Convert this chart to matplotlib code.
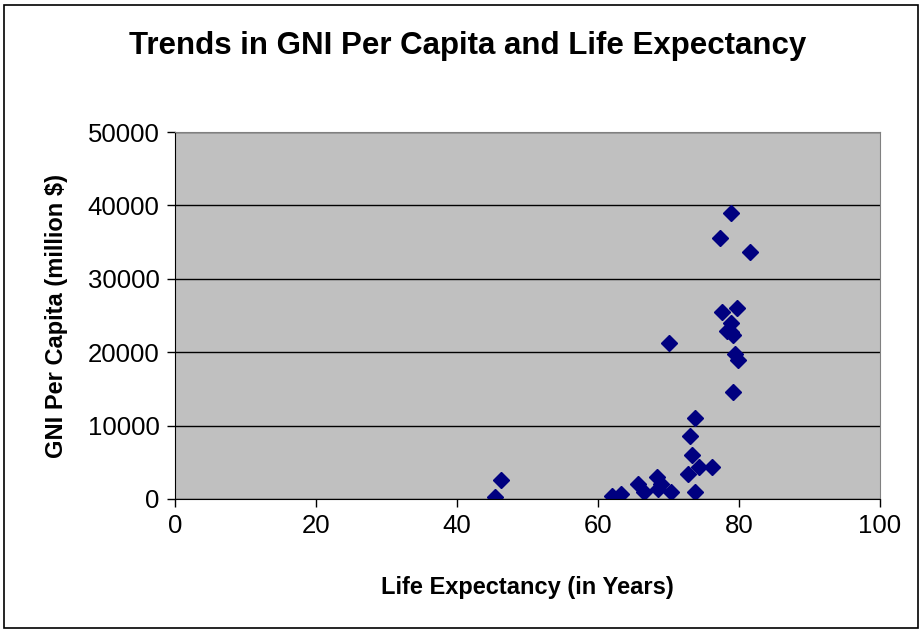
import matplotlib
matplotlib.use('Agg')
import matplotlib.pyplot as plt
from matplotlib.patches import Rectangle

plt.rcParams['font.family'] = ['Liberation Sans', 'DejaVu Sans']

# Espérance de vie (années) et RNB par habitant
life_exp = [78.8, 77.3, 81.5, 79.7, 77.6, 78.8, 78.3, 79.2, 78.9, 70.1,
            79.4, 79.8, 79.1, 73.7, 73.1, 73.4, 74.3, 76.2, 72.8, 73.7,
            70.4, 68.3, 69.0, 68.5, 65.7, 66.5, 62.0, 63.3, 46.3, 45.4]
gni = [38900, 35500, 33700, 26000, 25500, 24000, 22900, 22300, 22800, 21200,
       19800, 19000, 14600, 11100, 8600, 6000, 4300, 4300, 3400, 900,
       900, 3000, 2000, 1300, 2100, 900, 350, 700, 2550, 270]

x_ticks = [0, 20, 40, 60, 80, 100]
y_ticks = [0, 10000, 20000, 30000, 40000, 50000]

fig = plt.figure(figsize=(9.23, 6.32), dpi=100)
fig.patch.set_facecolor('white')
fig.patches.append(Rectangle((4 / 923, 4 / 632), 914 / 923, 623 / 632,
                             transform=fig.transFigure, fill=False,
                             edgecolor='black', linewidth=1.2))

ax = fig.add_axes([175 / 923, 1 - 499 / 632, 705 / 923, 367 / 632])
ax.set_facecolor('#C0C0C0')
ax.plot(life_exp, gni, linestyle='none', marker='D', markersize=8,
        color='#000080', markeredgecolor='#000080')

ax.set_xlim(0, 100)
ax.set_ylim(0, 50000)
ax.set_xticks(x_ticks)
ax.set_yticks(y_ticks)
ax.tick_params(labelsize=18.5, direction='out', length=6, width=1, pad=5)
ax.yaxis.grid(True, color='black', linewidth=1)
ax.set_axisbelow(True)
for side in ['top', 'right']:
    ax.spines[side].set_color('#808080')
for side in ['left', 'bottom']:
    ax.spines[side].set_color('black')

ax.set_xlabel('Life Expectancy (in Years)', fontsize=17, fontweight='bold', labelpad=27)
ax.set_ylabel('GNI Per Capita (million $)', fontsize=17, fontweight='bold', labelpad=14)
fig.text(468 / 923, 1 - 46 / 632, 'Trends in GNI Per Capita and Life Expectancy',
         ha='center', va='center', fontsize=22.5, fontweight='bold')

fig.savefig('out.png', dpi=100)
